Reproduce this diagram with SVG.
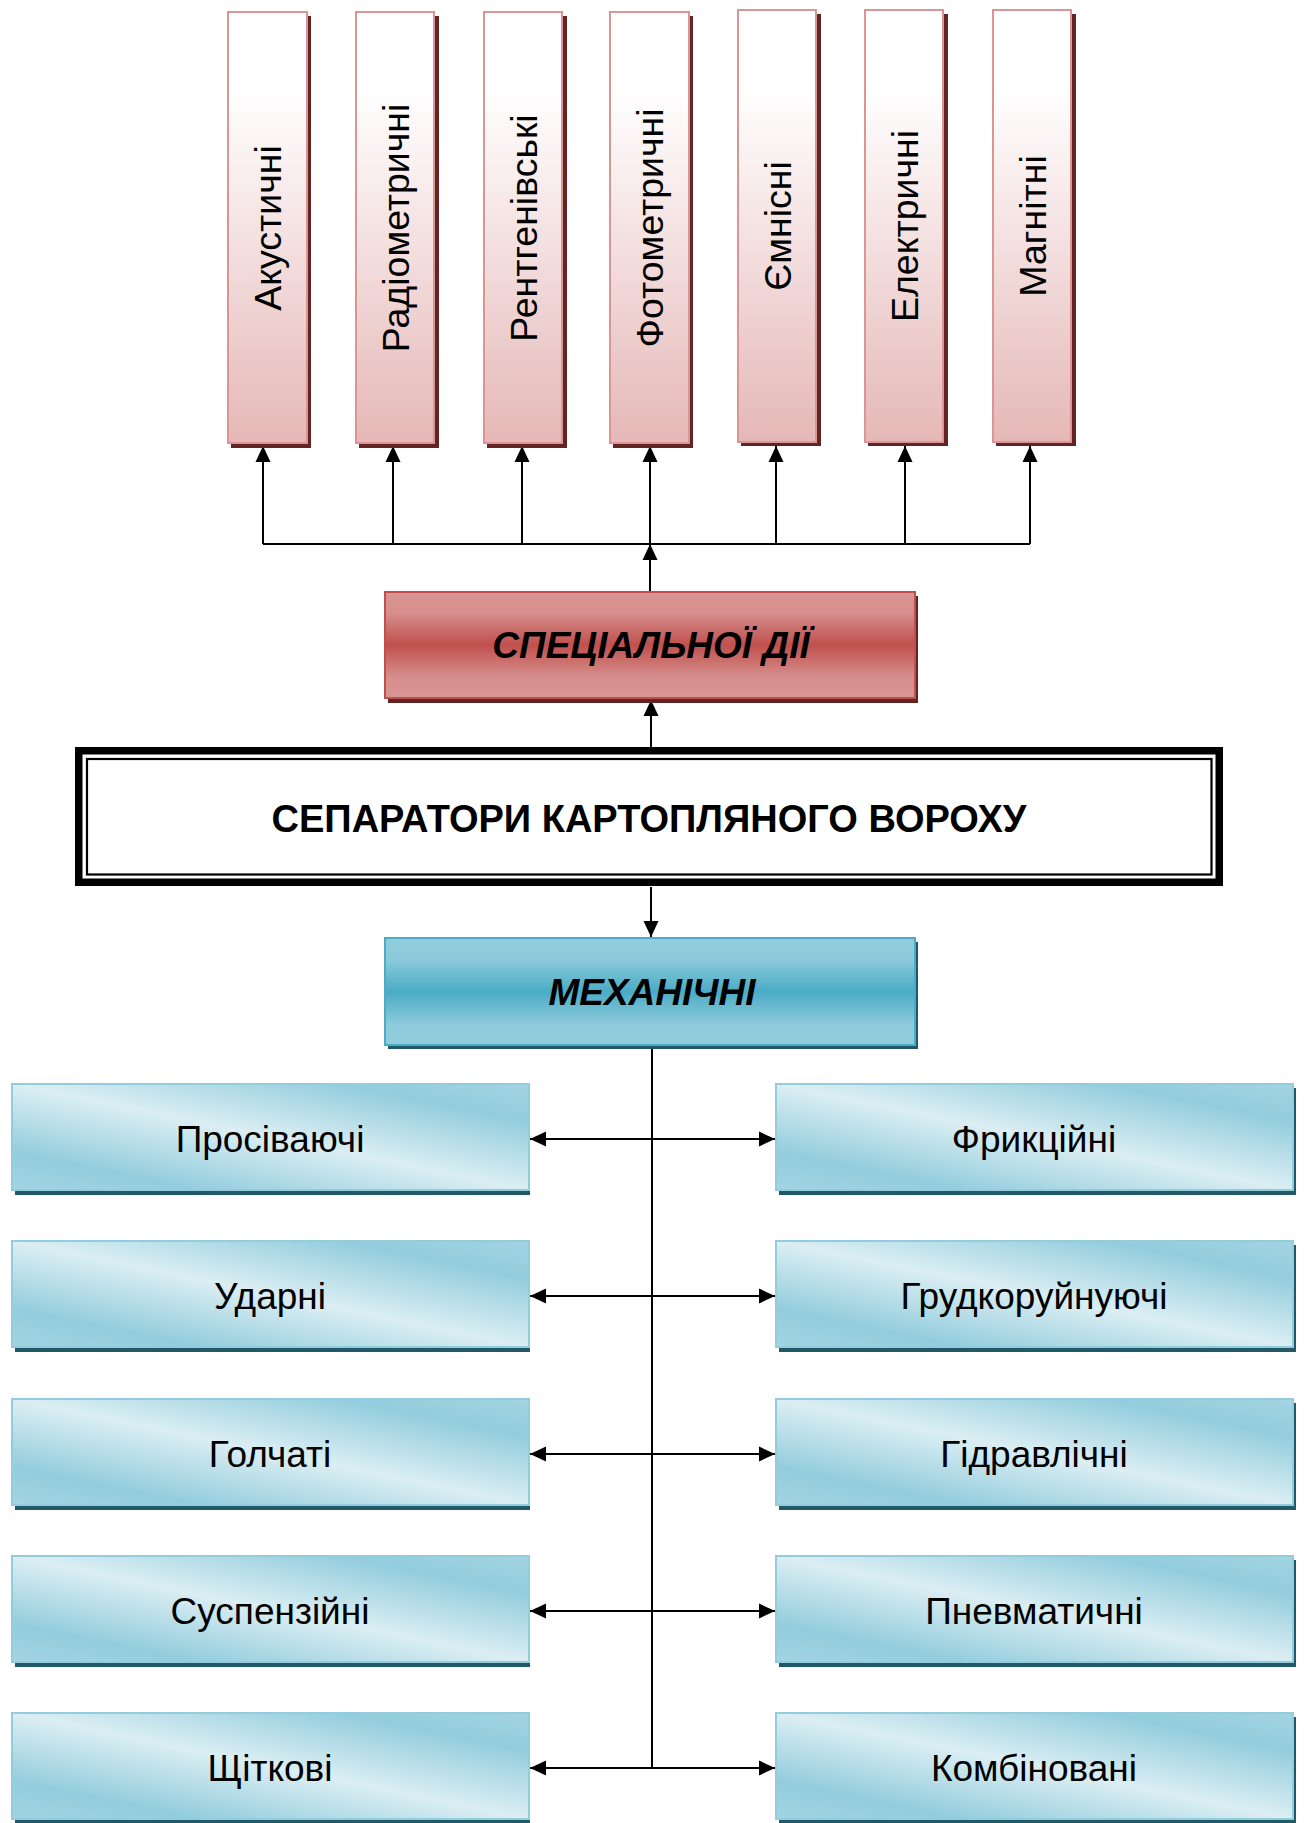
<svg xmlns="http://www.w3.org/2000/svg" width="1305" height="1823" viewBox="0 0 1305 1823">
<style>
text{font-family:"Liberation Sans",Arial,sans-serif;fill:#000;text-anchor:middle}
.vt{font-size:37.5px}
.bt{font-size:37px}
.hd{font-size:37px;font-weight:bold;font-style:italic}
.sep{font-size:38px;font-weight:bold}
.pk{fill:url(#pinkV);stroke:#D99694;stroke-width:2}
.pks{fill:#632523}
.rd{fill:url(#redBand);stroke:#C0504D;stroke-width:2}
.bl{fill:url(#blueBand);stroke:#4BACC6;stroke-width:2}
.bd{fill:url(#blueDiag);stroke:#93CDDD;stroke-width:2}
.bls{fill:#215968}
.cn{fill:none;stroke:#000;stroke-width:2}
</style>
<defs>
<linearGradient id="pinkV" x1="0" y1="0" x2="0" y2="1">
<stop offset="0" stop-color="#FFFFFF"/>
<stop offset="0.18" stop-color="#FFFFFF"/>
<stop offset="1" stop-color="#E5B8B7"/>
</linearGradient>
<linearGradient id="redBand" x1="0" y1="0" x2="0" y2="1">
<stop offset="0" stop-color="#D99694"/>
<stop offset="0.2" stop-color="#D68E8C"/>
<stop offset="0.5" stop-color="#C0504D"/>
<stop offset="0.8" stop-color="#D68E8C"/>
<stop offset="1" stop-color="#D99694"/>
</linearGradient>
<linearGradient id="blueBand" x1="0" y1="0" x2="0" y2="1">
<stop offset="0" stop-color="#93CDDD"/>
<stop offset="0.2" stop-color="#8CC9DA"/>
<stop offset="0.5" stop-color="#4BACC6"/>
<stop offset="0.8" stop-color="#8CC9DA"/>
<stop offset="1" stop-color="#93CDDD"/>
</linearGradient>
<linearGradient id="blueDiag" x1="0" y1="1" x2="1" y2="0">
<stop offset="0" stop-color="#A3D4E1"/>
<stop offset="0.18" stop-color="#93CDDD"/>
<stop offset="0.5" stop-color="#DBEEF3"/>
<stop offset="0.82" stop-color="#93CDDD"/>
<stop offset="1" stop-color="#A3D4E1"/>
</linearGradient>
<marker id="arr" markerUnits="userSpaceOnUse" markerWidth="17" markerHeight="16" refX="16" refY="8" orient="auto">
<path d="M0,0.5 L16,8 L0,15.5 z" fill="#000"/>
</marker>
</defs>

<g id="connectors">
<path class="cn" d="M263,544 H1030"/>
<path class="cn" d="M263,544 V446" marker-end="url(#arr)"/>
<path class="cn" d="M393,544 V446" marker-end="url(#arr)"/>
<path class="cn" d="M522,544 V446" marker-end="url(#arr)"/>
<path class="cn" d="M650,544 V446" marker-end="url(#arr)"/>
<path class="cn" d="M776,544 V446" marker-end="url(#arr)"/>
<path class="cn" d="M905,544 V446" marker-end="url(#arr)"/>
<path class="cn" d="M1030,544 V446" marker-end="url(#arr)"/>
<path class="cn" d="M650,592 V544" marker-end="url(#arr)"/>
<path class="cn" d="M651,747 V700" marker-end="url(#arr)"/>
<path class="cn" d="M651,887 V937" marker-end="url(#arr)"/>
<path class="cn" d="M652,1046 V1768"/>
<path class="cn" d="M652,1139 H530" marker-end="url(#arr)"/>
<path class="cn" d="M652,1139 H775" marker-end="url(#arr)"/>
<path class="cn" d="M652,1296 H530" marker-end="url(#arr)"/>
<path class="cn" d="M652,1296 H775" marker-end="url(#arr)"/>
<path class="cn" d="M652,1454 H530" marker-end="url(#arr)"/>
<path class="cn" d="M652,1454 H775" marker-end="url(#arr)"/>
<path class="cn" d="M652,1611 H530" marker-end="url(#arr)"/>
<path class="cn" d="M652,1611 H775" marker-end="url(#arr)"/>
<path class="cn" d="M652,1768 H530" marker-end="url(#arr)"/>
<path class="cn" d="M652,1768 H775" marker-end="url(#arr)"/>
</g>

<g id="n-akust">
<rect class="pks" x="231" y="16" width="80" height="432"/>
<rect class="pk" x="228" y="12" width="79" height="431"/>
<text class="vt" transform="translate(267,228) rotate(-90)" x="0" y="14">Акустичні</text>
</g>
<g id="n-radio">
<rect class="pks" x="359" y="16" width="80" height="432"/>
<rect class="pk" x="356" y="12" width="78" height="431"/>
<text class="vt" transform="translate(395,228) rotate(-90)" x="0" y="14">Радіометричні</text>
</g>
<g id="n-rentg">
<rect class="pks" x="487" y="16" width="80" height="432"/>
<rect class="pk" x="484" y="12" width="78" height="431"/>
<text class="vt" transform="translate(523,228) rotate(-90)" x="0" y="14">Рентгенівські</text>
</g>
<g id="n-foto">
<rect class="pks" x="613" y="16" width="80" height="432"/>
<rect class="pk" x="610" y="12" width="79" height="431"/>
<text class="vt" transform="translate(649,228) rotate(-90)" x="0" y="14">Фотометричні</text>
</g>
<g id="n-emn">
<rect class="pks" x="741" y="14" width="80" height="432"/>
<rect class="pk" x="738" y="10" width="78" height="432"/>
<text class="vt" transform="translate(777,226) rotate(-90)" x="0" y="14">Ємнісні</text>
</g>
<g id="n-elek">
<rect class="pks" x="868" y="14" width="80" height="432"/>
<rect class="pk" x="865" y="10" width="78" height="432"/>
<text class="vt" transform="translate(904,226) rotate(-90)" x="0" y="14">Електричні</text>
</g>
<g id="n-magn">
<rect class="pks" x="996" y="14" width="80" height="432"/>
<rect class="pk" x="993" y="10" width="78" height="432"/>
<text class="vt" transform="translate(1032,226) rotate(-90)" x="0" y="14">Магнітні</text>
</g>

<g id="n-spec">
<rect class="pks" x="388" y="596" width="530" height="107"/>
<rect class="rd" x="385" y="592" width="530" height="106"/>
<text class="hd" x="651" y="658">СПЕЦІАЛЬНОЇ ДІЇ</text>
</g>

<g id="n-separ">
<rect x="78.75" y="750.75" width="1140.5" height="131.5" fill="#fff" stroke="#000" stroke-width="7.5"/>
<rect x="87" y="759" width="1124.5" height="115.5" fill="none" stroke="#000" stroke-width="2.2"/>
<text class="sep" x="649" y="832">СЕПАРАТОРИ КАРТОПЛЯНОГО ВОРОХУ</text>
</g>

<g id="n-mech">
<rect class="bls" x="388" y="942" width="530" height="107"/>
<rect class="bl" x="385" y="938" width="530" height="107"/>
<text class="hd" x="652" y="1005">МЕХАНІЧНІ</text>
</g>

<g id="n-prosiv">
<rect class="bls" x="15" y="1088" width="515" height="107"/>
<rect class="bd" x="12" y="1084" width="517" height="106"/>
<text class="bt" x="270" y="1152">Просіваючі</text>
</g>
<g id="n-fryk">
<rect class="bls" x="779" y="1088" width="517" height="107"/>
<rect class="bd" x="776" y="1084" width="517" height="106"/>
<text class="bt" x="1034" y="1152">Фрикційні</text>
</g>
<g id="n-udar">
<rect class="bls" x="15" y="1245" width="515" height="107"/>
<rect class="bd" x="12" y="1241" width="517" height="106"/>
<text class="bt" x="270" y="1309">Ударні</text>
</g>
<g id="n-grud">
<rect class="bls" x="779" y="1245" width="517" height="107"/>
<rect class="bd" x="776" y="1241" width="517" height="106"/>
<text class="bt" x="1034" y="1309">Грудкоруйнуючі</text>
</g>
<g id="n-golch">
<rect class="bls" x="15" y="1403" width="515" height="107"/>
<rect class="bd" x="12" y="1399" width="517" height="106"/>
<text class="bt" x="270" y="1467">Голчаті</text>
</g>
<g id="n-gidr">
<rect class="bls" x="779" y="1403" width="517" height="107"/>
<rect class="bd" x="776" y="1399" width="517" height="106"/>
<text class="bt" x="1034" y="1467">Гідравлічні</text>
</g>
<g id="n-susp">
<rect class="bls" x="15" y="1560" width="515" height="107"/>
<rect class="bd" x="12" y="1556" width="517" height="106"/>
<text class="bt" x="270" y="1624">Суспензійні</text>
</g>
<g id="n-pnev">
<rect class="bls" x="779" y="1560" width="517" height="107"/>
<rect class="bd" x="776" y="1556" width="517" height="106"/>
<text class="bt" x="1034" y="1624">Пневматичні</text>
</g>
<g id="n-shchit">
<rect class="bls" x="15" y="1717" width="515" height="107"/>
<rect class="bd" x="12" y="1713" width="517" height="106"/>
<text class="bt" x="270" y="1781">Щіткові</text>
</g>
<g id="n-komb">
<rect class="bls" x="779" y="1717" width="517" height="107"/>
<rect class="bd" x="776" y="1713" width="517" height="106"/>
<text class="bt" x="1034" y="1781">Комбіновані</text>
</g>
</svg>
